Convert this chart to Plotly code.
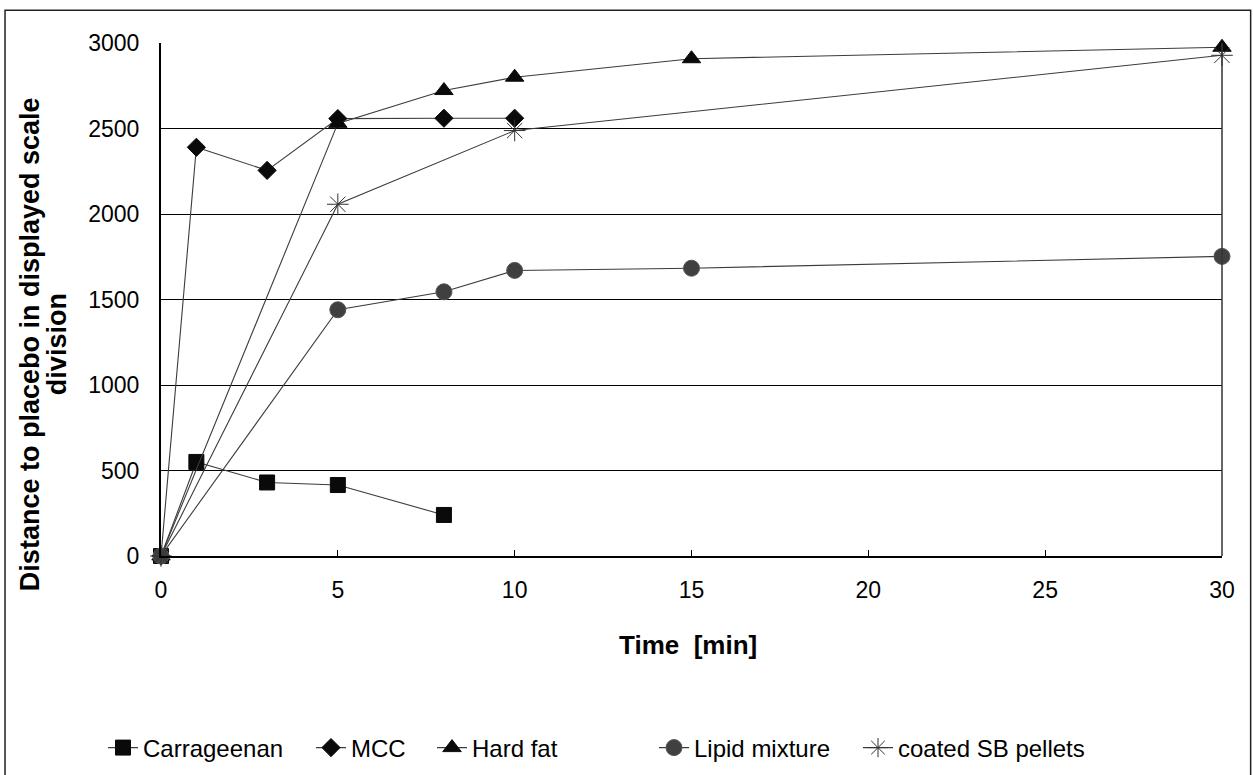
import plotly.graph_objects as go

# Measured distance to placebo over time for each excipient
carrageenan_t = [0, 1, 3, 5, 8]
carrageenan_v = [0, 550, 430, 415, 240]

mcc_t = [0, 1, 3, 5, 8, 10]
mcc_v = [0, 2390, 2255, 2558, 2560, 2560]

hardfat_t = [0, 5, 8, 10, 15, 30]
hardfat_v = [0, 2530, 2722, 2800, 2908, 2975]

lipid_t = [0, 5, 8, 10, 15, 30]
lipid_v = [0, 1440, 1545, 1670, 1683, 1752]

sb_t = [0, 5, 10, 30]
sb_v = [0, 2057, 2488, 2928]

x_ticks = [0, 5, 10, 15, 20, 25, 30]
y_ticks = [0, 500, 1000, 1500, 2000, 2500, 3000]

FONT = "Liberation Sans, Arial, sans-serif"
LINE = dict(color="#3c3c3c", width=1.1)

W, H = 1253, 775
# Plot-area geometry in pixels (used to convert annotation positions)
PLOT_L, PLOT_W = 161, 1061

series = [
    ("Carrageenan", carrageenan_t, carrageenan_v,
     dict(symbol="square", size=15, color="#0a0a0a", line=dict(color="#0a0a0a", width=1))),
    ("MCC", mcc_t, mcc_v,
     dict(symbol="diamond", size=14, color="#0a0a0a", line=dict(color="#0a0a0a", width=1))),
    ("Hard fat", hardfat_t, hardfat_v,
     dict(symbol="triangle-up", size=16, color="#0a0a0a", line=dict(color="#0a0a0a", width=1))),
    ("Lipid mixture", lipid_t, lipid_v,
     dict(symbol="circle", size=16, color="#404040", line=dict(color="#555555", width=1))),
    ("coated SB pellets", sb_t, sb_v,
     dict(symbol="asterisk-open", size=18, color="#333333", line=dict(color="#333333", width=1))),
]

# left pixel of each legend entry along the bottom row
legend_px = [103, 311, 432, 654, 858]
legend_names = ["legend", "legend2", "legend3", "legend4", "legend5"]

fig = go.Figure()
for (name, t, v, marker), lg in zip(series, legend_names):
    fig.add_trace(go.Scatter(
        x=t, y=v, name=name, mode="lines+markers",
        line=LINE, marker=marker, cliponaxis=False, legend=lg,
    ))

legend_layout = {}
for lg, px in zip(legend_names, legend_px):
    legend_layout[lg] = dict(
        orientation="h", xref="container", yref="container",
        x=px / W, xanchor="left", y=1 - 748 / H, yanchor="middle",
        font=dict(size=24), bgcolor="rgba(0,0,0,0)", borderwidth=0,
    )
fig.update_layout(**legend_layout)

fig.update_layout(
    width=W, height=H,
    margin=dict(l=161, r=31, t=43, b=219),
    paper_bgcolor="white", plot_bgcolor="white",
    font=dict(family=FONT, size=24, color="#000000"),
    showlegend=True,
    xaxis=dict(
        range=[0, 30], tickvals=x_ticks, showgrid=False, zeroline=False,
        showline=True, linecolor="#000000", linewidth=2, mirror=False,
        ticks="inside", ticklen=6, tickcolor="#000000",
        ticklabelstandoff=12, tickfont=dict(size=23),
    ),
    yaxis=dict(
        range=[0, 3000], tickvals=y_ticks, showgrid=True, gridcolor="#000000",
        gridwidth=1, zeroline=False, showline=True, linecolor="#000000",
        linewidth=2, ticks="", ticklabelstandoff=15, tickfont=dict(size=23),
    ),
    shapes=[
        # outer chart frame
        dict(type="rect", xref="paper", yref="paper",
             x0=-0.147, x1=1.027, y0=-0.43, y1=1.064,
             line=dict(color="#222222", width=1.5), fillcolor="rgba(0,0,0,0)"),
        # right edge of plot area
        dict(type="line", xref="paper", yref="paper", x0=1, x1=1, y0=0, y1=1,
             line=dict(color="#333333", width=1.5)),
    ],
    annotations=[
        dict(text="<b>Distance to placebo in displayed scale</b>",
             xref="paper", yref="paper", x=(30 - PLOT_L) / PLOT_W, y=0.413,
             textangle=-90, showarrow=False, font=dict(size=27),
             xanchor="center", yanchor="middle"),
        dict(text="<b>division</b>",
             xref="paper", yref="paper", x=(57 - PLOT_L) / PLOT_W, y=0.413,
             textangle=-90, showarrow=False, font=dict(size=27),
             xanchor="center", yanchor="middle"),
        dict(text="<b>Time  [min]</b>",
             xref="paper", yref="paper", x=(688 - PLOT_L) / PLOT_W, y=-0.1735,
             showarrow=False, font=dict(size=26),
             xanchor="center", yanchor="middle"),
    ],
)

fig.write_html("out.html")
